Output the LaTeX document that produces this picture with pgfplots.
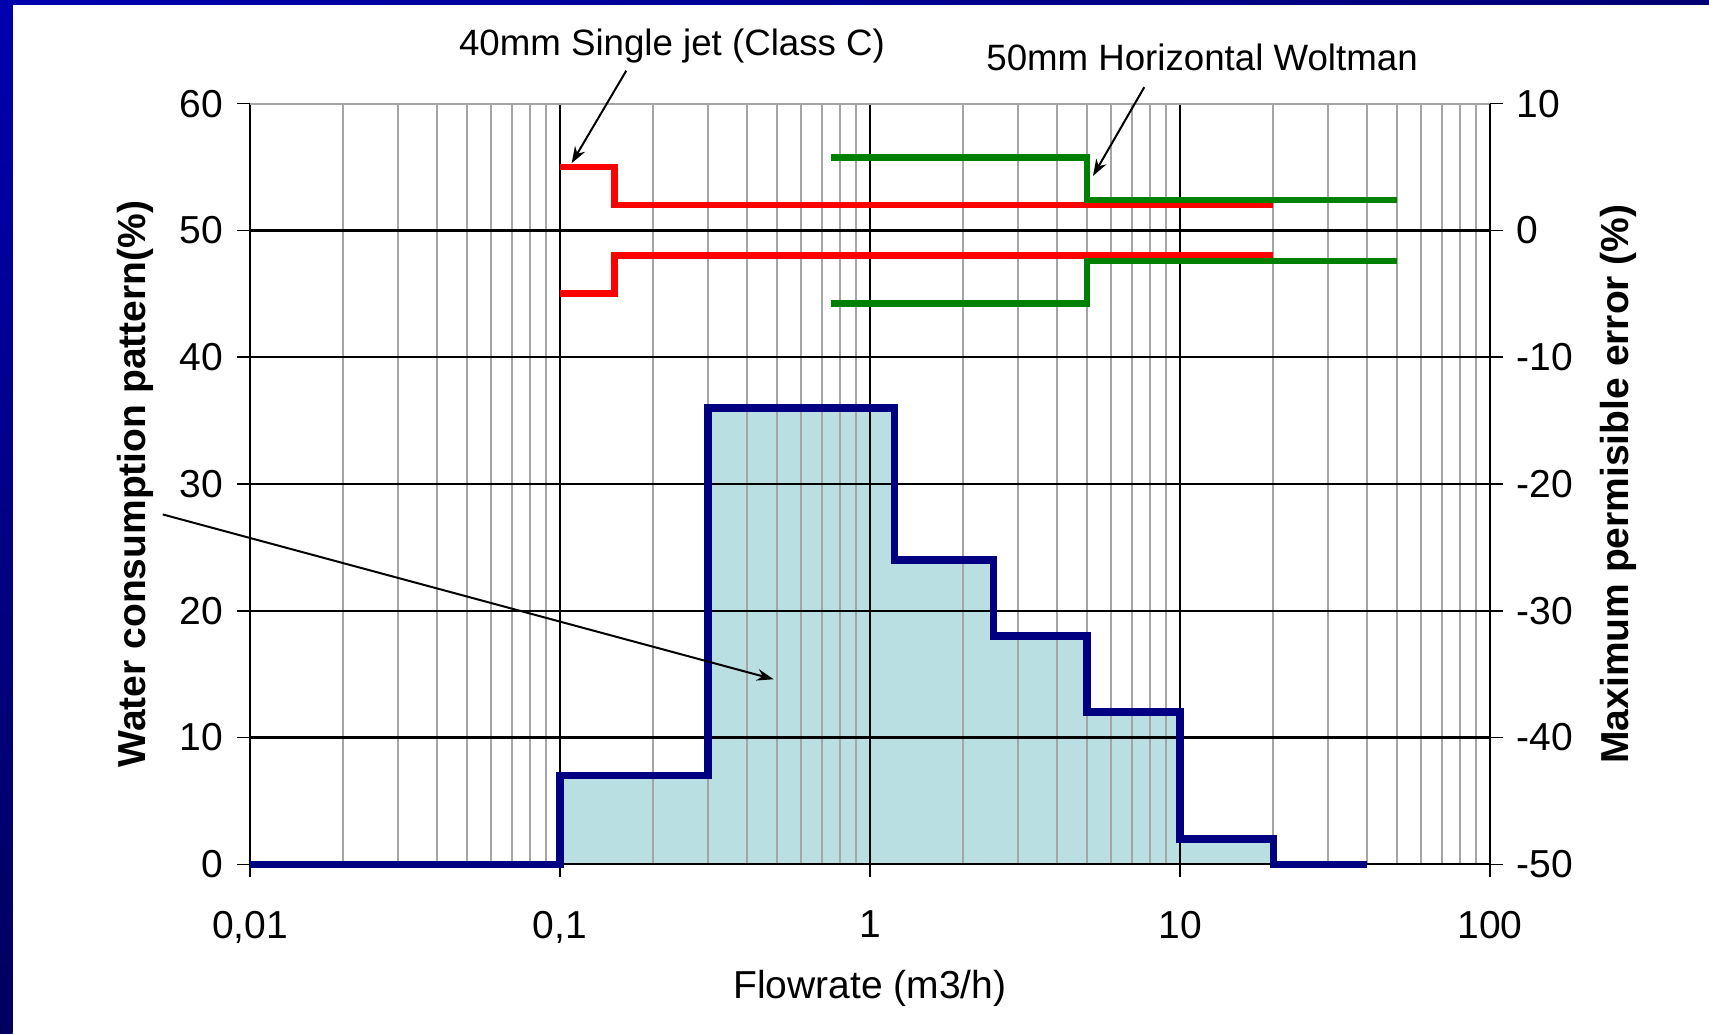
\documentclass[border=0pt]{standalone}
\usepackage{fontspec}
\setmainfont{Liberation Sans}
\usepackage{pgfplots}
\pgfplotsset{compat=1.18}
\usetikzlibrary{arrows.meta}
\definecolor{navy}{RGB}{0,0,128}
\definecolor{fillc}{RGB}{185,223,227}
\definecolor{grn}{RGB}{0,128,0}
\definecolor{gridgray}{RGB}{165,165,165}
\definecolor{bordA}{RGB}{0,0,175}
\definecolor{bordB}{RGB}{0,0,95}
\definecolor{bordC}{RGB}{0,0,115}

\begin{document}
\fontsize{11.7}{14}\selectfont
\begin{tikzpicture}
\useasboundingbox (0pt,0pt) rectangle (512.7pt,309.9pt);
\fill[white] (0pt,0pt) rectangle (512.7pt,309.9pt);
\shade[top color=bordA, bottom color=bordB] (0pt,0pt) rectangle (3.8pt,309.9pt);
\shade[left color=bordA, right color=bordC] (0pt,308.4pt) rectangle (512.7pt,309.9pt);

% fill under the grid
\begin{axis}[
  at={(75pt,50.6pt)}, anchor=south west,
  scale only axis, width=372pt, height=228.2pt,
  xmode=log, xmin=0.01, xmax=100, ymin=0, ymax=60,
  hide axis]
\addplot[fill=fillc, draw=none, const plot] coordinates {
  (0.1,7) (0.3,36) (1.2,24) (2.5,18) (5,12) (10,2) (20,2)} \closedcycle;
\end{axis}

\begin{axis}[
  at={(75pt,50.6pt)}, anchor=south west,
  scale only axis, width=372pt, height=228.2pt,
  xmode=log, xmin=0.01, xmax=100, ymin=0, ymax=60,
  axis x line*=bottom, axis y line*=left,
  xtick={0.01,0.1,1,10,100},
  xticklabels={0{,}01,0{,}1,1,10,100},
  minor xtick={0.02,0.03,0.04,0.05,0.06,0.07,0.08,0.09,0.2,0.3,0.4,0.5,0.6,0.7,0.8,0.9,2,3,4,5,6,7,8,9,20,30,40,50,60,70,80,90},
  ytick={0,10,20,30,40,50,60},
  yticklabels={0,10,20,30,40,50,60},
  tick align=outside, major tick length=3.9pt, minor tick length=0pt,
  tick style={black, line width=0.5pt},
  axis line style={black, line width=0.55pt},
  ticklabel style={font=\fontsize{11.7}{14}\selectfont},
  xticklabel style={yshift=-6pt},
  xminorgrids, xmajorgrids, ymajorgrids,
  major grid style={black, line width=0.5pt},
  minor grid style={gridgray, line width=0.55pt},
  clip=false,
]
\draw[black, line width=0.9pt] (axis cs:0.01,50) -- (axis cs:100,50);
\draw[black, line width=0.9pt] (axis cs:0.01,10) -- (axis cs:100,10);
\draw[gridgray, line width=0.6pt] (rel axis cs:0,1) -- (rel axis cs:1,1);
\addplot[navy, line width=2.3pt, const plot] coordinates {
  (0.01,0) (0.1,7) (0.3,36) (1.2,24) (2.5,18) (5,12) (10,2) (20,0) (40,0)};
\draw[-{Stealth[length=5pt,width=3.5pt]}, line width=0.6pt] (axis cs:0.1636,62.6) -- (axis cs:0.109,55.3);
\draw[-{Stealth[length=5pt,width=3.5pt]}, line width=0.6pt] (axis cs:7.67,61.3) -- (axis cs:5.24,54.3);
\draw[-{Stealth[length=5pt,width=3.5pt]}, line width=0.6pt] (axis cs:0.00523,27.6) -- (axis cs:0.4886,14.6);
\end{axis}

\begin{axis}[
  at={(75pt,50.6pt)}, anchor=south west,
  scale only axis, width=372pt, height=228.2pt,
  xmode=log, xmin=0.01, xmax=100, ymin=-50, ymax=10,
  axis x line=none, axis y line*=right,
  ytick={-50,-40,-30,-20,-10,0,10},
  yticklabels={-50,-40,-30,-20,-10,0,10},
  tick align=outside, major tick length=3.9pt, minor tick length=0pt,
  tick style={black, line width=0.5pt},
  axis line style={black, line width=0.55pt},
  ticklabel style={font=\fontsize{11.7}{14}\selectfont},
]
\addplot[red, line width=2pt, const plot] coordinates {(0.1,5) (0.15,2) (20,2)};
\addplot[red, line width=2pt, const plot] coordinates {(0.1,-5) (0.15,-2) (20,-2)};
\addplot[grn, line width=1.9pt, const plot] coordinates {(0.75,5.75) (5,2.4) (50,2.4)};
\addplot[grn, line width=1.9pt, const plot] coordinates {(0.75,-5.75) (5,-2.4) (50,-2.4)};
\end{axis}

\node[rotate=90, font=\bfseries] at (40.5pt,164.7pt) {Water consumption pattern(\%)};
\node[rotate=90, font=\bfseries] at (485.4pt,164.7pt) {Maximum permisible error (\%)};
\node at (261pt,13.5pt) {Flowrate (m3/h)};
\node[font=\fontsize{11}{13}\selectfont] at (201.6pt,296.1pt) {40mm Single jet (Class C)};
\node[font=\fontsize{11}{13}\selectfont] at (360.6pt,292.8pt) {50mm Horizontal Woltman};
\end{tikzpicture}
\end{document}
